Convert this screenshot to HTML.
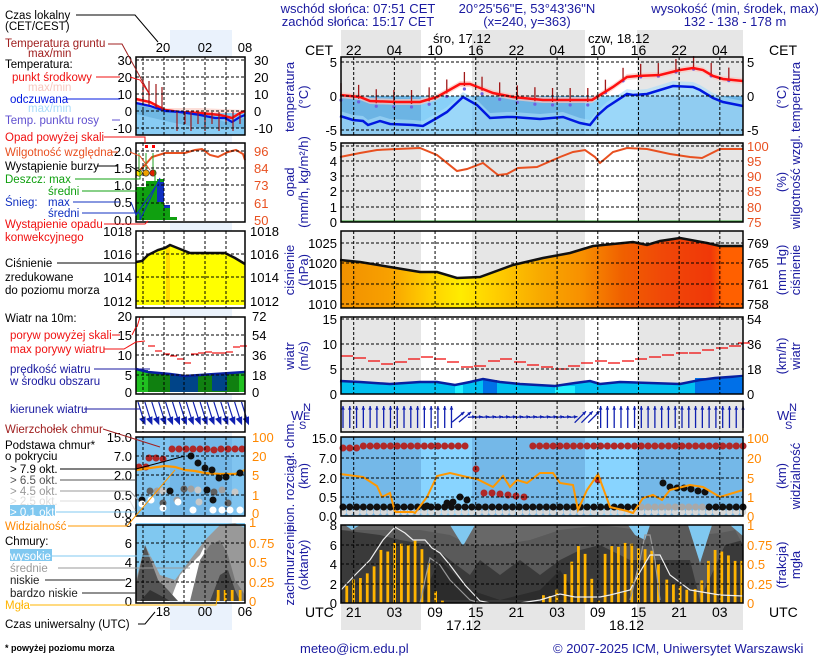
<!DOCTYPE html>
<html><head><meta charset="utf-8"><style>
body{margin:0;background:#fff;width:820px;height:660px;overflow:hidden}
svg{display:block;font-family:"Liberation Sans",sans-serif}
</style></head><body>
<svg id="s" width="820" height="660" viewBox="0 0 820 660" xmlns="http://www.w3.org/2000/svg">
<rect x="170" y="30" width="62" height="600" fill="#eaf2fc"/>
<rect x="341" y="30" width="80" height="27" fill="#e6e6e6"/><rect x="472" y="30" width="113" height="27" fill="#e6e6e6"/><rect x="637" y="30" width="106" height="27" fill="#e6e6e6"/>
<rect x="341" y="604" width="80" height="26" fill="#e6e6e6"/><rect x="472" y="604" width="113" height="26" fill="#e6e6e6"/><rect x="637" y="604" width="106" height="26" fill="#e6e6e6"/>
<g id="bg"></g>
<g id="content"></g>
<g id="grid"></g>
<g id="frames" fill="none" stroke="#000" stroke-width="1.5"></g>
<g id="txt"></g>
</svg>
<script>
const NS="http://www.w3.org/2000/svg";
function el(par,tag,attrs,text){const e=document.createElementNS(NS,tag);for(const k in attrs)e.setAttribute(k,attrs[k]);if(text!==undefined)e.textContent=text;document.getElementById(par).appendChild(e);return e;}
const C='content';
const X0=341,X1=743;
const panels=[[57,135,[62,96,130]],[143,222,[146,161,176,191,207]],[231,308,[243,263,284,304]],[317,394,[319,344,369]],[401,432,[]],[437,516,[458,478,497]],[525,603,[545,564,584]]];
const days=[[421,472],[585,637]];
const vx=[];for(let k=0;k<10;k++)vx.push(353.7+k*40.68);
const mvx=[143,164,184,205,226];
panels.forEach((p,i)=>{
 if(i==5){el('bg','rect',{x:X0,y:p[0],width:X1-X0,height:p[1]-p[0],fill:'#74b8e8'});days.forEach(d=>el('bg','rect',{x:d[0],y:p[0],width:d[1]-d[0],height:p[1]-p[0],fill:'#88d4ff'}));}
 else if(i==6){el('bg','rect',{x:X0,y:p[0],width:X1-X0,height:p[1]-p[0],fill:'#3a3a3a'});}
 else{el('bg','rect',{x:X0,y:p[0],width:X1-X0,height:p[1]-p[0],fill:'#e6e6e6'});days.forEach(d=>el('bg','rect',{x:d[0],y:p[0],width:d[1]-d[0],height:p[1]-p[0],fill:'#fff'}));}
 if(i==5)el('bg','rect',{x:136,y:p[0],width:109,height:p[1]-p[0],fill:'#80c4f0'});
 else if(i!=6)el('bg','rect',{x:136,y:p[0],width:109,height:p[1]-p[0],fill:'#fff'});
});
const pts=s=>s.trim().split(/\s+/).map(a=>a.split(',').map(Number));
const P=a=>a.map(p=>p.join(',')).join(' ');
// TEMPERATURE
el(C,'rect',{x:X0,y:96,width:402,height:39,fill:'#6cb4e4'});
days.forEach(d=>el(C,'rect',{x:d[0],y:96,width:d[1]-d[0],height:39,fill:'#88d0f8'}));
const red=pts("340,95 360,97 370,101 397,102 420,102 437,97 460,84 470,84 493,93 513,97 543,100 570,100 592,100 613,87 627,77 637,76 660,75 680,70 693,68 703,70 713,76 723,79 743,81");
const blue=pts("340,116 353,120 363,121 368,125 380,121 390,124 413,125 423,126 437,118 447,112 463,97 477,105 490,118 507,117 513,117 540,119 563,117 580,123 590,125 598,115 607,107 627,94 633,95 647,94 660,90 673,86 693,87 700,90 713,98 723,102 743,106");
el(C,'polygon',{points:P(blue.map(p=>[p[0],p[1]-5]))+" 743,135 341,135",fill:'#a8dcfa',opacity:0.6});
el(C,'polygon',{points:P(blue.map(p=>[p[0],Math.min(p[1],96)]))+" 743,96 341,96",fill:'#aadcf8'});
el(C,'polygon',{points:P(red.map(p=>[p[0],p[1]-3]))+" "+P(red.slice().reverse().map(p=>[p[0],p[1]+3])),fill:'#f8c8c0',opacity:0.7});
for(let h=0;h<59;h+=2.6){const x=X0+h*6.78;let y=0;for(let j=0;j<red.length-1;j++)if(x>=red[j][0]&&x<=red[j+1][0]){y=red[j][1]+(red[j+1][1]-red[j][1])*(x-red[j][0])/(red[j+1][0]-red[j][0]);}
 el(C,'line',{x1:x,y1:y+2,x2:x,y2:y-12,stroke:'#a01818','stroke-width':1.3});
 el(C,'circle',{cx:x,cy:y+(x>600?1:5),r:1.6,fill:'#7060e0'});}
el(C,'polyline',{points:P(red),fill:'none',stroke:'#ff1010','stroke-width':2.5});
el(C,'polyline',{points:P(blue),fill:'none',stroke:'#0018e0','stroke-width':2.5});
// PRECIP/humidity
el(C,'polyline',{points:"340,157 360,153 377,150 397,149 420,148 437,155 457,171 467,169 483,163 498,175 507,174 518,168 537,167 560,157 573,152 585,150 595,157 600,163 613,152 627,148 647,149 670,154 690,157 702,158 720,149 743,149",fill:'none',stroke:'#e85020','stroke-width':2});
el(C,'line',{x1:341,y1:221,x2:743,y2:221,stroke:'#30a030','stroke-width':1});
// PRESSURE
const pr="340,260 360,262 390,267 420,272 437,272 457,278 480,277 513,265 543,258 570,253 593,246 603,245 633,242 647,245 660,241 680,238 707,243 720,246 743,246";
const g=el(C,'linearGradient',{id:'pg',x1:0,x2:1,y1:0,y2:0});
[[0,'#f09000'],[0.12,'#f8a000'],[0.22,'#ffd000'],[0.3,'#ffec00'],[0.38,'#ffd000'],[0.5,'#f8a800'],[0.6,'#f89000'],[0.7,'#f06000'],[0.8,'#f04808'],[0.92,'#f03808'],[0.95,'#ff6000'],[1,'#ff6000']].forEach(s=>{const st=document.createElementNS(NS,'stop');st.setAttribute('offset',s[0]);st.setAttribute('stop-color',s[1]);g.appendChild(st);});
el(C,'polygon',{points:pr+" 743,308 341,308",fill:'url(#pg)'});
el(C,'polyline',{points:pr,fill:'none',stroke:'#111','stroke-width':2.5});
// WIND
const ws="340,381 360,382 390,384 420,382 437,382 455,385 470,382 483,379 500,382 520,384 555,386 575,383 590,381 600,384 620,382 650,383 680,384 700,380 715,378 743,376";
el(C,'polygon',{points:ws+" 743,394 341,394",fill:'#00c0f0'});
el(C,'rect',{x:483,y:380,width:14,height:14,fill:'#0070e8'});
el(C,'rect',{x:695,y:378,width:48,height:16,fill:'#0070e8'});
el(C,'rect',{x:455,y:385,width:8,height:9,fill:'#20f0ff'});
el(C,'rect',{x:555,y:386,width:20,height:8,fill:'#20f0ff'});
el(C,'polyline',{points:ws,fill:'none',stroke:'#0820a0','stroke-width':2.5});
const gust=[[341,356],[354,358],[368,361],[381,364],[395,362],[408,359],[421,357],[434,359],[447,362],[461,367],[474,366],[488,361],[500,359],[514,362],[527,365],[541,367],[555,369],[568,366],[581,363],[595,361],[608,363],[622,361],[635,359],[649,357],[662,355],[676,353],[689,353],[702,350],[716,348],[729,346],[738,343]];
gust.forEach(p=>el(C,'line',{x1:p[0],y1:p[1],x2:p[0]+12,y2:p[1],stroke:'#f01010','stroke-width':1.3}));
// WIND DIRECTION
for(let i=0;i<60;i++){const x=343+i*6.78;let ang=-90;
 if(x>455&&x<600){ang= x<470? -40 : (x<575?-5:-45);}
 const L=(ang<-60)?22:(ang<-20?16:8),cx=x,cy=417;const r=ang*Math.PI/180;const dx=Math.cos(r)*L/2,dy=Math.sin(r)*L/2;
 el(C,'line',{x1:cx-dx,y1:cy-dy,x2:cx+dx,y2:cy+dy,stroke:'#1020b0','stroke-width':1.3});
 const hx=cx+dx,hy=cy+dy;const a1=r+Math.PI*0.85,a2=r-Math.PI*0.85;
 el(C,'polygon',{points:`${hx},${hy} ${hx+Math.cos(a1)*4},${hy+Math.sin(a1)*4} ${hx+Math.cos(a2)*4},${hy+Math.sin(a2)*4}`,fill:'#1020b0'});}
// CLOUD BASE
for(let i=0;i<60;i++){const x=343+i*6.78;
 if(!(x>468&&x<528))el(C,'circle',{cx:x,cy:x<360?448:446,r:3.5,fill:'#b02828'});
 el(C,'circle',{cx:x,cy:512,r:3.3,fill:'#d8d8d8'});
 el(C,'circle',{cx:x,cy:507,r:3.5,fill:(x>640&&x<705)?'#a8a8a8':'#111'});
}
[[476,469],[484,493],[492,493],[500,494],[508,495],[516,496],[524,497],[598,480]].forEach(p=>el(C,'circle',{cx:p[0],cy:p[1],r:3.5,fill:'#b02828'}));
[[460,497],[467,500],[447,503],[453,502],[427,506]].forEach(p=>el(C,'circle',{cx:p[0],cy:p[1],r:3.5,fill:'#111'}));
[[663,483],[670,487],[677,488],[684,488],[691,489],[698,491],[705,492]].forEach(p=>el(C,'circle',{cx:p[0],cy:p[1],r:3.5,fill:'#111'}));
el(C,'polyline',{points:"340,474 363,477 377,486 382,497 390,493 395,512 413,512 415,513 427,497 437,476 450,473 467,477 477,479 493,487 503,476 510,487 517,480 527,483 540,473 553,473 560,483 573,485 578,510 587,490 598,474 610,507 627,511 633,513 643,498 653,495 662,500 670,490 690,485 703,487 720,497 743,490",fill:'none',stroke:'#ff9800','stroke-width':2});
// CLOUD COVER
el(C,'polygon',{points:"341,525 743,525 743,540 725,545 700,600 690,560 650,560 630,560 600,545 580,550 560,560 540,575 520,560 500,575 480,560 470,575 450,560 430,545 400,540 380,535 341,530",fill:'#5a5a5a'});
el(C,'polygon',{points:"341,525 743,525 743,545 735,530 720,533 700,535 690,525 650,525 640,530 600,525 560,530 530,540 500,545 470,545 450,535 420,530 380,530 341,530",fill:'#686868'});
el(C,'polygon',{points:"345,525 360,525 352,530",fill:'#80c8f0'});
el(C,'polygon',{points:"450,525 475,525 463,546",fill:'#80c8f0'});
el(C,'polygon',{points:"628,525 650,525 645,540 635,535",fill:'#80c8f0'});
el(C,'polygon',{points:"688,525 712,525 700,563",fill:'#80c8f0'});
el(C,'polygon',{points:"730,525 743,525 743,536",fill:'#80c8f0'});
el(C,'polygon',{points:"420,600 440,560 470,590 500,600 540,590 560,570 580,600",fill:'#2c2c2c'});
const fog=[0.22,0.3,0.32,0.38,0.47,0.68,0.66,0.77,0.76,0.74,0.8,0.69,0.51,0.15,0.03];
fog.forEach((f,i)=>{const x=280+(200+i*20.5)/3;el(C,'rect',{x:x-1.3,y:603-f*78,width:2.8,height:f*78,fill:'#ffb400'});});
const fog2=[[790,0.1],[810,0.09],[830,0.17],[855,0.37],[875,0.53],[895,0.73],[915,0.63],[935,0.31],[955,0.03],[975,0.63],[995,0.73],[1015,0.72],[1035,0.77],[1055,0.76],[1075,0.7],[1095,0.69],[1115,0.67],[1135,0.5],[1160,0.3],[1180,0.24],[1200,0.22],[1220,0.17],[1245,0.18],[1265,0.29],[1285,0.54],[1305,0.68],[1325,0.66],[1345,0.61],[1365,0.54],[1385,0.54]];
fog2.forEach(p=>{const x=280+p[0]/3;el(C,'rect',{x:x-1.3,y:603-p[1]*78,width:2.8,height:p[1]*78,fill:'#ffb400'});});
el(C,'polyline',{points:"341,590 355,575 370,560 383,540 395,527 405,533 413,540 425,540 432,548 440,553 450,565 465,585 480,601 490,603 520,603 540,600 560,594 575,597 600,597 610,595 630,590 640,572 650,555 660,555 670,575 690,590 720,595 743,596",fill:'none',stroke:'#eee','stroke-width':1.2});
el(C,'polyline',{points:"420,603 425,580 430,558 440,565 450,580 460,590 470,600 480,603",fill:'none',stroke:'#999','stroke-width':1.2});
el(C,'polyline',{points:"630,600 640,560 645,535 650,535 655,560 660,600",fill:'none',stroke:'#999','stroke-width':1.2});
// MINI
el(C,'rect',{x:136,y:113,width:109,height:22,fill:'#88ccf4'});
el(C,'polygon',{points:"136,100 150,103 165,108 200,108 245,110 245,113 136,113",fill:'#fcded8'});
el(C,'polygon',{points:"136,104 160,110 200,113 225,122 245,118 245,128 200,128 170,122 136,114",fill:'#70b8e4'});
el(C,'polyline',{points:"136,99 150,102 165,110 180,112 200,113 220,115 232,118 240,113 245,111",fill:'none',stroke:'#ff1010','stroke-width':2.5});
el(C,'polyline',{points:"136,103 150,106 165,111 180,112 200,115 215,118 225,118 232,122 240,117 245,115",fill:'none',stroke:'#0018e0','stroke-width':2.2});
[143,149,156,162,177,185,191,198,205,212,219,226,233,240].forEach((x,i)=>el(C,'line',{x1:x,y1:i<4?102+i*3:112,x2:x,y2:i<4?78+i*3:(i%2?124:131),stroke:'#a01818','stroke-width':1.2}));
el(C,'rect',{x:136,y:187,width:10,height:33,fill:'#10a010'});
el(C,'rect',{x:146,y:181,width:11,height:39,fill:'#10a010'});
el(C,'rect',{x:157,y:179,width:7,height:41,fill:'#10a010'});
el(C,'rect',{x:157,y:182,width:7,height:20,fill:'#1030c0'});
el(C,'rect',{x:164,y:205,width:6,height:15,fill:'#10a010'});
el(C,'rect',{x:164,y:205,width:6,height:3,fill:'#1030c0'});
el(C,'rect',{x:170,y:217,width:7,height:3,fill:'#10a010'});
el(C,'polyline',{points:"136,174 145,165 152,157 165,153 185,153 195,150 202,149 210,155 218,157 228,152 236,150 243,154 245,160",fill:'none',stroke:'#e85020','stroke-width':2});
[[139,173,'#ffe000'],[146,173,'#f0a000'],[153,173,'#e02000']].forEach(p=>{el(C,'line',{x1:p[0],y1:p[1],x2:p[0],y2:p[1]-20,stroke:'#20a020'});el(C,'circle',{cx:p[0],cy:p[1],r:3.2,fill:p[2],stroke:'#333','stroke-width':0.6});});
el(C,'rect',{x:145,y:145,width:3,height:3,fill:'#f00'});el(C,'rect',{x:152,y:145,width:3,height:3,fill:'#f00'});
const mp="136,262 142,261 148,255 158,250 165,248 170,245 180,249 190,253 205,253 225,253 235,258 245,264";
el(C,'polygon',{points:mp+" 245,305 136,305",fill:'#ffff00'});
el(C,'rect',{x:166,y:247,width:4,height:58,fill:'#ffd800'});
el(C,'polyline',{points:mp,fill:'none',stroke:'#111','stroke-width':2.5});
el(C,'polygon',{points:"136,369 148,372 170,374 185,376 200,375 230,373 245,372 245,392 136,392",fill:'#108010'});
el(C,'rect',{x:136,y:370,width:12,height:22,fill:'#20c020'});el(C,'rect',{x:239,y:373,width:6,height:19,fill:'#20c020'});
el(C,'rect',{x:170,y:375,width:28,height:17,fill:'#004488'});el(C,'rect',{x:212,y:374,width:15,height:17,fill:'#004488'});
el(C,'polyline',{points:"136,369 148,372 170,374 185,376 200,375 230,373 245,372",fill:'none',stroke:'#0820a0','stroke-width':2.5});
[[148,346],[155,351],[163,354],[170,356],[177,359],[184,363],[191,354],[198,353],[205,352],[212,353],[219,353],[226,352],[233,347],[240,346]].forEach(p=>el(C,'line',{x1:p[0],y1:p[1],x2:p[0]+7,y2:p[1],stroke:'#f01010','stroke-width':1.2}));
el(C,'polyline',{points:"137,327 140,317",stroke:'#f01010',fill:'none'});
for(let i=0;i<16;i++){const x=140+i*6.9;el(C,'line',{x1:x-2,y1:402,x2:x+3,y2:418,stroke:'#1020b0','stroke-width':1.2});el(C,'polygon',{points:`${x+5},${424} ${x},${419} ${x+5},${417}`,fill:'#1020b0','stroke':'#1020b0'});}
el(C,'rect',{x:170,y:437,width:62,height:79,fill:'#74b8e8'});
[[172,449],[179,449],[186,449],[193,449],[200,449],[207,449],[214,450],[221,449],[228,449],[235,449],[242,449],[149,458],[156,458],[163,459],[139,467],[146,467]].forEach(p=>el(C,'circle',{cx:p[0],cy:p[1],r:3.5,fill:'#b02828'}));
el(C,'polyline',{points:"136,470 150,468 165,466 175,467 185,470 195,471 205,473 220,474 235,474 245,470",fill:'none',stroke:'#ff9800','stroke-width':2.2});
[[191,456],[198,463],[205,468],[212,470],[219,478],[226,477],[240,473]].forEach(p=>el(C,'circle',{cx:p[0],cy:p[1],r:3.5,fill:'#111'}));
[[150,491],[157,491],[163,491],[170,491],[184,489],[191,489],[198,490],[207,490],[214,492],[222,490],[235,492],[142,500],[163,503],[177,500],[199,502],[213,500],[228,503]].forEach((p,i)=>el(C,'circle',{cx:p[0],cy:p[1],r:3.5,fill:['#606060','#a0a0a0','#c8c8c8','#111'][i%4]}));
[[142,504],[151,500],[163,508],[178,502],[193,510],[213,510],[222,510],[230,510],[240,510]].forEach(p=>el(C,'circle',{cx:p[0],cy:p[1],r:3.5,fill:'#fff'}));
el(C,'rect',{x:136,y:523,width:109,height:78,fill:'#80c8f0'});
el(C,'polygon',{points:"136,601 136,580 145,545 160,575 175,580 190,560 205,540 220,525 235,523 245,528 245,601",fill:'#999'});
el(C,'polygon',{points:"170,601 180,575 190,565 200,555 205,545 200,601",fill:'#fff'});
el(C,'polygon',{points:"190,601 200,560 210,545 220,540 228,555 235,580 245,595 245,601",fill:'#777'});
el(C,'polygon',{points:"136,601 136,585 145,545 158,580 168,590 178,601",fill:'#555'});
el(C,'polygon',{points:"140,601 150,590 165,598 170,601",fill:'#333'});
el(C,'polygon',{points:"210,601 220,575 228,570 235,590 240,601",fill:'#444'});
[218,225,232,240].forEach(x=>el(C,'rect',{x:x-1.2,y:590,width:2.8,height:11,fill:'#ffb400'}));
// GRID
function dash(x1,y1,x2,y2){el('grid','line',{x1,y1,x2,y2,stroke:'#000','stroke-width':1,'stroke-dasharray':'3,2'});}
panels.forEach((p,i)=>{
 vx.forEach(x=>dash(x,p[0],x,p[1]));
 p[2].forEach(y=>dash(X0,y,X1,y));
 mvx.forEach(x=>dash(x,p[0],x,p[1]));
 const mh={0:[60,77,94,111,128],1:[151,168,185,203],2:[254,277,301],3:[335,355,375],5:[456,475,495],6:[543,562,582]}[i]||[];
 mh.forEach(y=>dash(136,y,245,y));
 el('frames','rect',{x:X0,y:p[0],width:X1-X0,height:p[1]-p[0]});
 el('frames','rect',{x:136,y:p[0],width:109,height:p[1]-p[0]});
});
// TEXT
function t(x,y,s,o){o=o||{};return el('txt','text',Object.assign({x,y,'font-size':o.fs||11.5,fill:o.c||'#000','text-anchor':o.a||'start'},o.extra||{}),s);}
const NV='#1a1aa0',OR='#ff8800';
t(358,13,'wschód słońca: 07:51 CET',{fs:13,c:NV,a:'middle'});
t(358,26,'zachód słońca: 15:17 CET',{fs:13,c:NV,a:'middle'});
t(527,13,'20°25\'56"E, 53°43\'36"N',{fs:13,c:NV,a:'middle'});
t(527,26,'(x=240,  y=363)',{fs:13,c:NV,a:'middle'});
t(735,13,'wysokość (min, środek, max)',{fs:13,c:NV,a:'middle'});
t(735,26,'132 - 138 - 178 m',{fs:13,c:NV,a:'middle'});
t(433,43,'śro, 17.12',{fs:13});t(588,43,'czw, 18.12',{fs:13});
t(305,55,'CET',{fs:14});t(769,55,'CET',{fs:14});
['22','04','10','16','22','04','10','16','22','04'].forEach((s,k)=>t(vx[k],55,s,{fs:14,a:'middle'}));
['21','03','09','15','21','03','09','15','21','03'].forEach((s,k)=>t(vx[k],617,s,{fs:14,a:'middle'}));
t(305,617,'UTC',{fs:14});t(769,617,'UTC',{fs:14});
t(446,630,'17.12',{fs:14});t(609,630,'18.12',{fs:14});
function lax(arr,x,a,c,fs){arr.forEach(p=>t(x,p[1]+5,p[0],{fs:fs||13,a:a||'end',c:c||'#000'}));}
lax([['5',62],['0',96],['-5',130]],337);lax([['5',62],['0',96],['-5',130]],747,'start');
lax([['5',146],['4',161],['3',176],['2',191],['1',207],['0',222]],337);
lax([['100',146],['95',161],['90',176],['85',191],['80',207],['75',222]],747,'start','#e85020');
lax([['1025',243],['1020',263],['1015',284],['1010',304]],337);lax([['769',243],['765',263],['761',284],['758',304]],747,'start');
lax([['15',319],['10',344],['5',369],['0',394]],337);lax([['54',319],['36',344],['18',369],['0',394]],747,'start');
lax([['15.0',438],['7.0',458],['2.0',478],['0.5',497],['0.0',516]],337);
lax([['100',438],['20',458],['5',478],['1',497],['0',516]],747,'start',OR);
lax([['8',525],['6',545],['4',564],['2',584],['0',603]],337);
lax([['1',525],['0.75',545],['0.5',564],['0.25',584],['0',603]],747,'start',OR);
function rot(x,y,lines){lines.forEach((s,i)=>{t(0,0,s,{fs:13,c:NV,a:'middle',extra:{transform:`translate(${x+i*14},${y}) rotate(-90)`}});});}
rot(294,97,['temperatura','(°C)']);rot(786,97,['(°C)','temperatura']);
rot(294,182,['opad','(mm/h, kg/m²/h)']);rot(786,182,['(%)','wilgotność wzgl.']);
rot(294,270,['ciśnienie','(hPa)']);rot(786,270,['(mm Hg)','ciśnienie']);
rot(294,356,['wiatr','(m/s)']);rot(786,356,['(km/h)','wiatr']);
rot(294,476,['pion. rozciągł. chm.','(km)']);rot(786,476,['(km)','widzialność']);
rot(294,565,['zachmurzenie','(oktanty)']);rot(786,565,['(frakcja)','mgła']);
t(291,420,'W',{fs:13,c:NV});t(303,411,'N',{fs:11,c:NV});t(303,420,'E',{fs:11,c:NV});t(299,429,'S',{fs:11,c:NV});
t(777,420,'W',{fs:13,c:NV});t(789,411,'N',{fs:11,c:NV});t(789,420,'E',{fs:11,c:NV});t(785,429,'S',{fs:11,c:NV});
t(300,653,'meteo@icm.edu.pl',{fs:13,c:NV});t(553,653,'© 2007-2025 ICM, Uniwersytet Warszawski',{fs:13,c:NV});
lax([['30',60],['20',77],['10',94],['0',111],['-10',128]],132);lax([['30',60],['20',77],['10',94],['0',111],['-10',128]],254,'start');
lax([['2.0',151],['1.5',168],['1.0',185],['0.5',202],['0.0',220]],132);lax([['96',151],['84',168],['73',185],['61',203],['50',220]],254,'start','#e85020');
lax([['1018',231],['1016',254],['1014',277],['1012',301]],132);lax([['1018',231],['1016',254],['1014',277],['1012',301]],250,'start');
lax([['20',316],['15',335],['10',355],['5',375],['0',392]],132);lax([['72',316],['54',335],['36',355],['18',375],['0',392]],252,'start');
lax([['15.0',437],['7.0',456],['2.0',475],['0.5',495],['0.0',513]],132);lax([['100',437],['20',456],['5',475],['1',495],['0',513]],252,'start',OR);
lax([['8',522],['6',543],['4',562],['2',582],['0',601]],132);lax([['1',522],['0.75',543],['0.5',562],['0.25',582],['0',601]],249,'start',OR);
t(163,52,'20',{fs:13,a:'middle'});t(205,52,'02',{fs:13,a:'middle'});t(245,52,'08',{fs:13,a:'middle'});
t(163,616,'18',{fs:13,a:'middle'});t(205,616,'00',{fs:13,a:'middle'});t(245,616,'06',{fs:13,a:'middle'});
const L=[[5,19,'Czas lokalny','#000'],[5,30,'(CET/CEST)','#000'],[5,47,'Temperatura gruntu','#a02020'],[28,57,'max/min','#a02020'],[5,68,'Temperatura:','#000'],[12,81,'punkt środkowy','#f01010'],[28,91,'max/min','#f8c8c0'],[10,103,'odczuwana','#0018e0'],[28,112,'max/min','#a8dcfa'],[5,124,'Temp. punktu rosy','#6050d0'],
[5,141,'Opad powyżej skali','#f01010'],[5,156,'Wilgotność względna','#e85020'],[5,170,'Wystąpienie burzy','#000'],[5,183,'Deszcz: max','#10a010'],[48,195,'średni','#10a010'],[5,206,'Śnieg:','#1030c0'],[48,206,'max','#1030c0'],[48,217,'średni','#1030c0'],[5,228,'Wystąpienie opadu','#f01010'],[5,241,'konwekcyjnego','#f01010'],
[5,267,'Ciśnienie','#000'],[5,281,'zredukowane','#000'],[5,294,'do poziomu morza','#000'],
[5,322,'Wiatr na 10m:','#000'],[10,339,'poryw powyżej skali','#f01010'],[10,353,'max porywy wiatru','#f01010'],[10,373,'prędkość wiatru','#1a1aa0'],[10,385,'w środku obszaru','#1a1aa0'],
[10,413,'kierunek wiatru','#1a1aa0'],[5,433,'Wierzchołek chmur','#a02020'],[5,449,'Podstawa chmur*','#000'],[5,460,'o pokryciu','#000'],[10,473,'> 7.9 okt.','#000'],[10,484,'> 6.5 okt.','#555'],[10,495,'> 4.5 okt.','#999'],[10,505,'> 2.5 okt.','#ddd'],
[5,530,'Widzialność',OR],[5,545,'Chmury:','#000'],[10,572,'średnie','#999'],[10,584,'niskie','#222'],[10,597,'bardzo niskie','#222'],[5,609,'Mgła','#ffb400'],[5,628,'Czas uniwersalny (UTC)','#000']];
el('txt','rect',{x:10,y:505,width:45,height:11,fill:'#80c8f0'});
el('txt','rect',{x:10,y:549,width:42,height:12,fill:'#80c8f0'});
L.forEach(l=>t(l[0],l[1],l[2],{c:l[3]}));
t(10,516,'> 0.1 okt.',{c:'#fff'});t(10,560,'wysokie',{c:'#fff'});
t(5,651,'* powyżej poziomu morza',{fs:9,extra:{'font-weight':'bold'}});
function ln(p,c){el('txt','polyline',{points:p,fill:'none',stroke:c,'stroke-width':1});}
ln("76,15 135,15 158,42",'#000');ln("108,44 122,44 150,95",'#a02020');ln("96,77 120,77",'#f01010');ln("130,77 140,80 150,95",'#f01010');
ln("66,99 120,99",'#0018e0');ln("112,120 120,120",'#6050d0');
ln("104,137 145,137 145,143",'#f01010');ln("112,152 118,152",'#e85020');ln("130,152 140,156 150,170",'#e85020');
ln("97,166 118,166",'#000');ln("130,166 140,172",'#000');ln("75,179 140,179 140,170",'#10a010');ln("82,191 155,191 155,170",'#10a010');
ln("73,202 120,202",'#1030c0');ln("131,202 136,215 160,180",'#1030c0');ln("82,213 140,213 140,220 160,178",'#1030c0');
ln("104,224 145,224 148,221",'#f01010');ln("57,263 136,263",'#000');
ln("112,335 120,335",'#f01010');ln("132,335 136,327",'#f01010');ln("104,349 124,349 136,342 145,341",'#f01010');ln("94,369 150,369",'#1a1aa0');
ln("84,409 140,409",'#1a1aa0');ln("103,429 160,447",'#a02020');ln("60,469 136,469 185,456",'#000');ln("60,480 135,480",'#555');
ln("60,491 130,491 138,500",'#999');ln("60,501 130,501 135,510",'#ddd');ln("56,512 136,512",'#80c8f0');
ln("68,526 127,526 175,470",'#ff9800');ln("52,556 136,556 180,556",'#80c8f0');ln("58,568 136,568 190,568",'#999');ln("45,580 125,580",'#222');ln("82,593 136,593",'#222');
ln("30,605 216,605 218,593",'#ffb400');ln("138,624 145,624 155,612",'#000');
</script>
</body></html>
